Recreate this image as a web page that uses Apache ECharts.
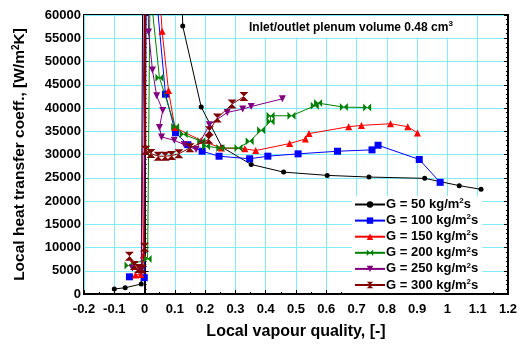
<!DOCTYPE html>
<html>
<head>
<meta charset="utf-8">
<script src="https://cdn.jsdelivr.net/npm/echarts@6/dist/echarts.min.js"></script>
<style>
html,body{margin:0;padding:0;background:#fff}
#chart{width:523px;height:345px}
</style>
</head>
<body>
<div id="chart"></div>
<script>
// axis ranges
var xMin = -0.2, xMax = 1.2, xStep = 0.1;
var yMin = 0, yMax = 60000, yStep = 5000;

var seriesNames = ['G = 50 kg/m2s','G = 100 kg/m2s','G = 150 kg/m2s','G = 200 kg/m2s','G = 250 kg/m2s','G = 300 kg/m2s'];
var seriesColors = ['#000000','#0000ff','#ff0000','#008000','#800080','#800000'];

// [quality, htc]  (points above 60000 are the peaks that run off the plot)
var g50 = [[-0.100,1070],[-0.064,1350],[-0.011,2140],[0.000,150000],[0.118,80000],[0.126,57640],[0.187,40190],
    [0.256,31560],[0.352,27860],[0.459,26210],[0.603,25510],[0.741,25150],[0.925,24870],[1.039,23300],[1.111,22510]];
var g100 = [[-0.050,3700],[-0.001,3500],[0.008,86000],[0.069,42970],[0.102,34700],[0.143,32100],[0.190,30700],
    [0.246,29630],[0.347,29080],[0.407,29640],[0.507,30140],[0.637,30700],[0.751,31000],[0.771,31990],[0.907,28930],[0.976,24010]];
var g150 = [[-0.030,4100],[-0.012,4200],[-0.004,8400],[0.009,106000],[0.058,56500],[0.079,43740],[0.100,35800],
    [0.187,33000],[0.253,31400],[0.331,31220],[0.367,30850],[0.479,32350],[0.531,33350],[0.543,34490],[0.674,35980],
    [0.716,36260],[0.812,36620],[0.869,35980],[0.901,34640]];
var g200 = [[-0.053,6120],[0.010,7550],[0.018,66000],[0.049,46520],[0.101,35920],[0.129,34340],[0.187,32840],
    [0.203,31770],[0.250,31400],[0.310,31400],[0.347,32840],[0.385,35190],[0.416,37120],[0.416,38330],[0.485,38330],
    [0.562,40470],[0.573,41050],[0.658,40190],[0.735,40110]];
var g250 = [[-0.040,5600],[-0.010,5200],[0.005,100000],[0.013,56360],[0.026,48170],[0.040,42610],[0.060,39470],
    [0.049,35830],[0.056,33780],[0.098,33050],[0.131,32130],[0.170,31060],[0.214,36410],[0.273,39040],[0.324,39770],
    [0.352,40320],[0.455,41970]];
var g300 = [[-0.050,8120],[-0.034,6120],[-0.020,5500],[-0.007,5400],[0.000,10050],[0.002,100000],[0.004,30920],
    [0.021,30210],[0.045,29630],[0.068,29630],[0.089,29780],[0.113,30150],[0.150,31430],[0.212,33260],[0.214,35120],
    [0.240,37840],[0.289,40840],[0.328,42460]];

var seriesData = [g50, g100, g150, g200, g250, g300];
var seriesSymbols = ['circle','rect','triangle','path://M0,0L0,10L10,0L10,10Z','path://M0,0L10,0L5,10Z','path://M0,0L10,0L0,10L10,10Z'];
var seriesSizes = [5, 7, 7, 8, 7, 9];

var supStyle = {fontSize: 8, fontWeight: 'bold', fontFamily: 'Liberation Sans', color: '#000', padding: [0, 0, 7, 0]};
var gridColor = '#80ecf6';

var myChart = echarts.init(document.getElementById('chart'), null, {renderer: 'canvas'});

var series = [];
for (var i = 0; i < seriesData.length; i++) {
    series.push({
        name: seriesNames[i],
        type: 'line',
        data: seriesData[i],
        symbol: seriesSymbols[i],
        symbolSize: seriesSizes[i],
        showSymbol: true,
        clip: true,
        z: 2 + i,
        itemStyle: {color: seriesColors[i]},
        lineStyle: {color: seriesColors[i], width: 1}
    });
}

function xLabel(v) { return String(Math.round(v * 10) / 10); }
function yLabel(v) { return String(v); }

var option = {
    animation: false,
    backgroundColor: '#fff',
    textStyle: {fontFamily: 'Liberation Sans'},
    grid: {left: 84, right: 15, top: 15, bottom: 50, show: true, borderColor: '#000', borderWidth: 2, backgroundColor: 'transparent'},
    title: {
        text: 'Inlet/outlet plenum volume 0.48 cm{sup|3}',
        left: 244, top: 16,
        backgroundColor: '#fff',
        padding: [4, 6, 4, 5],
        textStyle: {fontSize: 12, fontWeight: 'bold', color: '#000', fontFamily: 'Liberation Sans',
            rich: {sup: supStyle}}
    },
    legend: {
        orient: 'vertical',
        left: 352, top: 196,
        backgroundColor: '#fff',
        padding: [1, 4, 1, 2],
        itemWidth: 30, itemHeight: 8, itemGap: 1.6,
        formatter: function (name) { return name.replace('m2s', 'm{sup|2}s'); },
        textStyle: {fontSize: 13, fontWeight: 'bold', color: '#000', fontFamily: 'Liberation Sans', lineHeight: 14,
            padding: [0, 0, 0, -4], rich: {sup: supStyle}},
        data: seriesNames
    },
    xAxis: {
        type: 'value', min: xMin, max: xMax, interval: xStep,
        name: 'Local vapour quality, [-]', nameLocation: 'middle', nameGap: 30,
        nameTextStyle: {fontSize: 16, fontWeight: 'bold', color: '#000', fontFamily: 'Liberation Sans'},
        axisLine: {lineStyle: {color: '#000', width: 2}},
        axisTick: {inside: true, length: 4, lineStyle: {color: '#000'}},
        minorTick: {show: true, splitNumber: 2, length: 2, lineStyle: {color: '#000'}},
        axisLabel: {formatter: xLabel, fontSize: 13, fontWeight: 'bold', color: '#000', margin: 9, fontFamily: 'Liberation Sans'},
        splitLine: {show: true, lineStyle: {color: gridColor, width: 1, type: 'solid'}}
    },
    yAxis: [{
        type: 'value', min: yMin, max: yMax, interval: yStep, position: 'left',
        name: 'Local heat transfer coeff., [W/m{sup|2}K]', nameLocation: 'middle', nameGap: 55, nameRotate: 90,
        nameTextStyle: {fontSize: 15.5, fontWeight: 'bold', color: '#000', fontFamily: 'Liberation Sans',
            rich: {sup: {fontSize: 10, fontWeight: 'bold', fontFamily: 'Liberation Sans', padding: [0, 0, 8, 0]}}},
        axisLine: {lineStyle: {color: '#000', width: 2}},
        axisTick: {inside: true, length: 4, lineStyle: {color: '#000'}},
        minorTick: {show: true, splitNumber: 5, length: 2, lineStyle: {color: '#000'}},
        axisLabel: {formatter: yLabel, fontSize: 13, fontWeight: 'bold', color: '#000', margin: 3, fontFamily: 'Liberation Sans'},
        splitLine: {show: true, lineStyle: {color: gridColor, width: 1, type: 'solid'}}
    }, {
        type: 'value', min: yMin, max: yMax, interval: yStep, position: 'right',
        axisLine: {show: true, lineStyle: {color: '#000', width: 2}},
        axisTick: {inside: true, length: 4, lineStyle: {color: '#000'}},
        minorTick: {show: true, splitNumber: 5, length: 2, lineStyle: {color: '#000'}},
        axisLabel: {show: false}, splitLine: {show: false}
    }],
    series: series
};

myChart.setOption(option);
</script>
</body>
</html>
